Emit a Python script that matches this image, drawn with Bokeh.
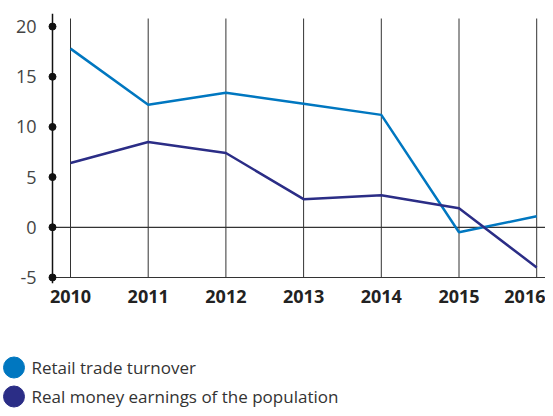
from bokeh.plotting import figure
from bokeh.models import Range1d, ColumnDataSource, FixedTicker
from bokeh.core.properties import value
from bokeh.embed import file_html
from bokeh.resources import INLINE

# ---- data ----
years = [2010, 2011, 2012, 2013, 2014, 2015, 2016]
retail = [17.8, 12.2, 13.4, 12.3, 11.2, -0.5, 1.1]
earnings = [6.4, 8.5, 7.4, 2.8, 3.2, 1.9, -4.0]
y_ticks = [-5, 0, 5, 10, 15, 20]
y_tick_labels = ["-5", "0", "5", "10", "15", "20"]
series_names = ["Retail trade turnover", "Real money earnings of the population"]
series_colors = ["#0077c0", "#2b2d86"]

FONT = "Open Sans"
PX = 77.7  # pixels per year
x_start = years[0] - 30 / PX
x_end = years[0] + 475 / PX
axis_x = years[0] - 18 / PX

p = figure(width=545, height=313, output_backend="svg", toolbar_location=None,
           x_range=Range1d(x_start, x_end), y_range=Range1d(-5.6, 21.3),
           min_border_left=40, min_border_right=0, min_border_top=13, min_border_bottom=30)
p.outline_line_color = None
p.xgrid.visible = False
p.ygrid.visible = False
p.background_fill_color = "white"

# axes
p.yaxis.ticker = FixedTicker(ticks=y_ticks)
p.yaxis.major_label_overrides = {t: s for t, s in zip(y_ticks, y_tick_labels)}
p.yaxis.axis_line_color = None
p.yaxis.major_tick_line_color = None
p.yaxis.major_tick_out = 0
p.yaxis.major_tick_in = 0
p.yaxis.minor_tick_line_color = None
p.yaxis.major_label_standoff = 4
p.yaxis.major_label_text_font = FONT
p.yaxis.major_label_text_font_size = "18px"
p.yaxis.major_label_text_color = "#444444"

p.xaxis.ticker = FixedTicker(ticks=years)
p.xaxis.axis_line_color = None
p.xaxis.major_tick_line_color = None
p.xaxis.major_tick_out = 0
p.xaxis.major_tick_in = 0
p.xaxis.minor_tick_line_color = None
p.xaxis.major_label_standoff = 6
p.xaxis.major_label_text_font = FONT
p.xaxis.major_label_text_font_style = "bold"
p.xaxis.major_label_text_font_size = "18px"
p.xaxis.major_label_text_color = "#222222"

# vertical grid lines per year
p.segment(x0=years, y0=[y_ticks[0]] * len(years), x1=years, y1=[20.8] * len(years),
          line_color="#333333", line_width=1)
# horizontal lines at 0 and -5
p.segment(x0=[axis_x, axis_x], y0=[0, y_ticks[0]], x1=[x_end, x_end], y1=[0, y_ticks[0]],
          line_color="#333333", line_width=1.2)
# y axis line
p.segment(x0=[axis_x], y0=[-5.6], x1=[axis_x], y1=[21.3], line_color="#111111", line_width=1.5)
# axis dots
p.scatter(x=[axis_x] * len(y_ticks), y=y_ticks, size=7, color="#111111")

# series
p.line(years, retail, line_color=series_colors[0], line_width=2.5)
p.line(years, earnings, line_color=series_colors[1], line_width=2.5)

# legend figure (separate root so it is not frame-aligned with the chart)
lg = figure(width=545, height=95, output_backend="svg", toolbar_location=None,
            x_range=Range1d(0, 545), y_range=Range1d(95, 0),
            x_axis_location=None, y_axis_location=None, min_border=0)
lg.outline_line_color = None
lg.grid.visible = False
src = ColumnDataSource(dict(x=[13.5, 13.5], y=[54, 83], name=series_names, color=series_colors))
lg.scatter(x="x", y="y", size=21, color="color", source=src)
lg.text(x=[31, 31], y=[54, 83], text=series_names, text_font=value(FONT),
        text_font_size="17px", text_color="#333333", text_baseline="middle", text_align="left")

open("out.html", "w").write(file_html([p, lg], INLINE))
